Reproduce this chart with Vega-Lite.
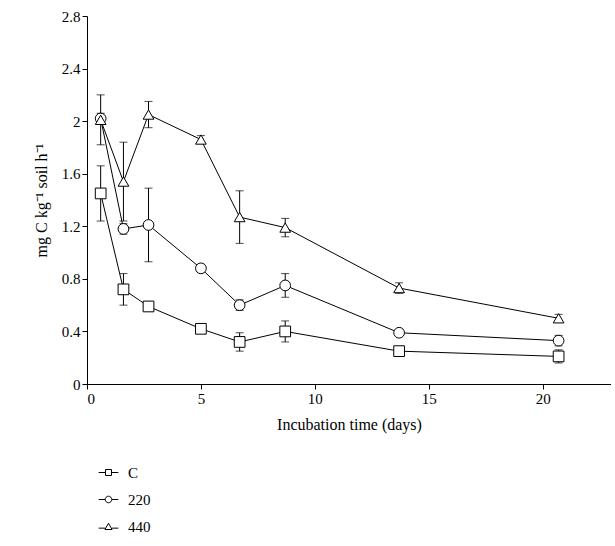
{
  "$schema": "https://vega.github.io/schema/vega-lite/v6.json",
  "width": 524,
  "height": 368,
  "padding": {"left": 33, "top": 9, "right": 0, "bottom": 5},
  "config": {
    "view": {"stroke": null},
    "font": "Liberation Serif",
    "axis": {"labelFont": "Liberation Serif", "titleFont": "Liberation Serif", "labelFontSize": 15, "titleFontSize": 16, "titleFontWeight": "normal", "grid": false, "domainColor": "black", "tickColor": "black", "labelColor": "black", "titleColor": "black"},
    "legend": {"labelFont": "Liberation Serif", "labelFontSize": 15, "labelColor": "black"}
  },
  "data": {"values": [
    {"s": "C", "t": 0.6, "v": 1.45, "e": 0.21},
    {"s": "C", "t": 1.6, "v": 0.72, "e": 0.12},
    {"s": "C", "t": 2.7, "v": 0.59, "e": 0.02},
    {"s": "C", "t": 5, "v": 0.42, "e": 0.03},
    {"s": "C", "t": 6.7, "v": 0.32, "e": 0.07},
    {"s": "C", "t": 8.7, "v": 0.40, "e": 0.08},
    {"s": "C", "t": 13.7, "v": 0.25, "e": 0.03},
    {"s": "C", "t": 20.7, "v": 0.21, "e": 0.05},
    {"s": "220", "t": 0.6, "v": 2.02, "e": 0.04},
    {"s": "220", "t": 1.6, "v": 1.18, "e": 0.04},
    {"s": "220", "t": 2.7, "v": 1.21, "e": 0.28},
    {"s": "220", "t": 5, "v": 0.88, "e": 0.03},
    {"s": "220", "t": 6.7, "v": 0.60, "e": 0.04},
    {"s": "220", "t": 8.7, "v": 0.75, "e": 0.09},
    {"s": "220", "t": 13.7, "v": 0.39, "e": 0.02},
    {"s": "220", "t": 20.7, "v": 0.33, "e": 0.04},
    {"s": "440", "t": 0.6, "v": 2.01, "e": 0.19},
    {"s": "440", "t": 1.6, "v": 1.54, "e": 0.30},
    {"s": "440", "t": 2.7, "v": 2.05, "e": 0.10},
    {"s": "440", "t": 5, "v": 1.86, "e": 0.03},
    {"s": "440", "t": 6.7, "v": 1.27, "e": 0.20},
    {"s": "440", "t": 8.7, "v": 1.19, "e": 0.07},
    {"s": "440", "t": 13.7, "v": 0.73, "e": 0.04},
    {"s": "440", "t": 20.7, "v": 0.50, "e": 0.03}
  ]},
  "transform": [
    {"calculate": "datum.v - datum.e", "as": "lo"},
    {"calculate": "datum.v + datum.e", "as": "hi"}
  ],
  "encoding": {
    "x": {"field": "t", "type": "quantitative", "scale": {"domain": [0, 23], "nice": false}, "axis": {"values": [0, 5, 10, 15, 20], "title": "Incubation time (days)", "titlePadding": 10}},
    "y": {"field": "v", "type": "quantitative", "scale": {"domain": [0, 2.8], "nice": false}, "axis": {"values": [0, 0.4, 0.8, 1.2, 1.6, 2, 2.4, 2.8], "format": "~g", "title": "mg C kg\u207b\u00b9 soil h\u207b\u00b9", "titlePadding": 12}}
  },
  "layer": [
    {"mark": {"type": "line", "color": "black", "strokeWidth": 1}, "encoding": {"detail": {"field": "s"}}},
    {"mark": {"type": "rule", "color": "black", "strokeWidth": 1}, "encoding": {"y": {"field": "lo", "type": "quantitative"}, "y2": {"field": "hi"}}},
    {"mark": {"type": "tick", "color": "black", "orient": "horizontal", "size": 8, "thickness": 1}, "encoding": {"y": {"field": "lo", "type": "quantitative"}}},
    {"mark": {"type": "tick", "color": "black", "orient": "horizontal", "size": 8, "thickness": 1}, "encoding": {"y": {"field": "hi", "type": "quantitative"}}},
    {"mark": {"type": "point", "filled": true, "fill": "white", "stroke": "black", "strokeWidth": 1, "size": 115, "opacity": 1},
     "encoding": {"shape": {"field": "s", "type": "nominal", "scale": {"domain": ["C", "220", "440"], "range": ["square", "circle", "triangle-up"]}, "legend": null}}},
    {"mark": {"type": "point", "filled": false, "stroke": "black", "strokeWidth": 1, "opacity": 0},
     "encoding": {"shape": {"field": "s", "type": "nominal", "scale": {"domain": ["C", "220", "440"], "range": [
       "M-1.8,0H-0.55M0.55,0H1.8M-0.55,-0.55H0.55V0.55H-0.55Z",
       "M-1.8,0H-0.6M0.6,0H1.8M-0.6,0A0.6,0.6,0,1,0,0.6,0A0.6,0.6,0,1,0,-0.6,0Z",
       "M-1.8,0.3H-0.65M0.65,0.3H1.8M-0.65,0.55L0,-0.6L0.65,0.55Z"
     ]}, "legend": {"title": null, "orient": "none", "legendX": 14, "legendY": 449, "symbolSize": 120, "symbolOpacity": 1, "symbolStrokeColor": "black", "symbolFillColor": "white", "symbolStrokeWidth": 1, "labelOffset": 12, "rowPadding": 11}}}}
  ],
  "resolve": {"scale": {"shape": "independent"}}
}
